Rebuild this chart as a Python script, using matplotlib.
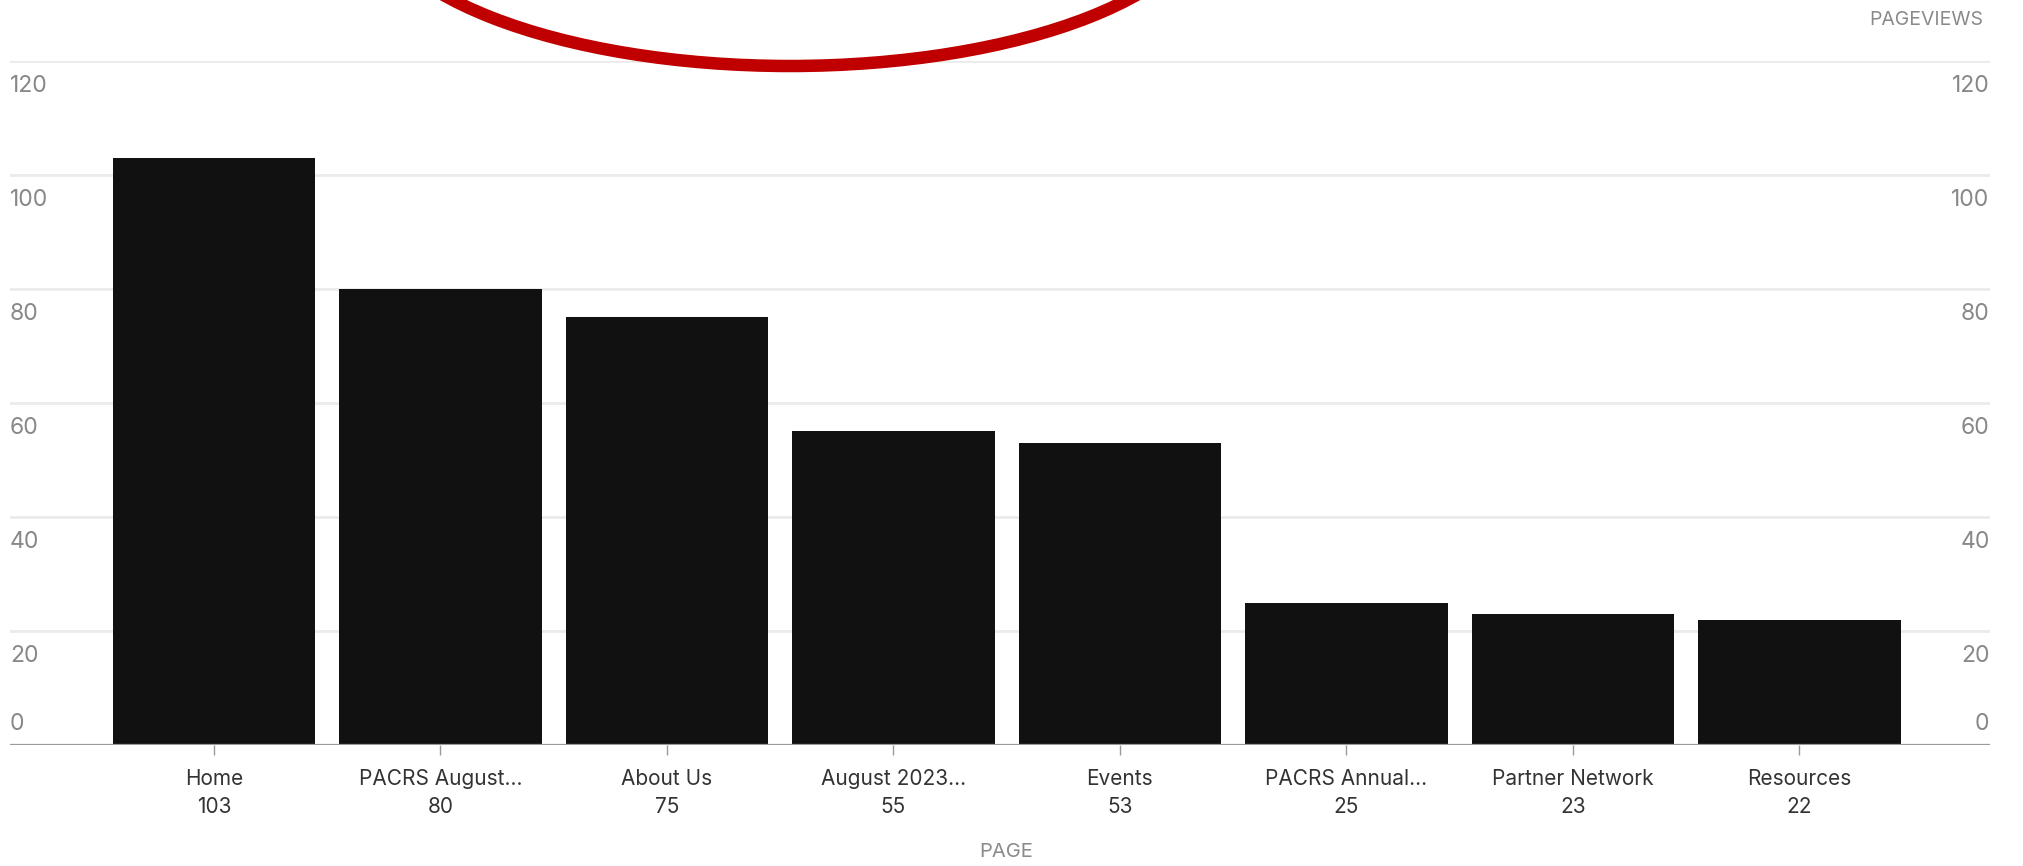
import matplotlib
matplotlib.use('Agg')
import matplotlib.pyplot as plt
from matplotlib.patches import Ellipse

# data
pages = ['Home', 'PACRS August...', 'About Us', 'August 2023...', 'Events',
         'PACRS Annual...', 'Partner Network', 'Resources']
pageviews = [103, 80, 75, 55, 53, 25, 23, 22]
y_ticks = [0, 20, 40, 60, 80, 100, 120]

plt.rcParams['font.family'] = ['Inter', 'DejaVu Sans']

fig = plt.figure(figsize=(20.24, 8.66), dpi=100)
ax = fig.add_axes([0.005, 0.1397, 0.978, 0.7899])

x = list(range(len(pages)))
ax.bar(x, pageviews, width=0.895, color='#111111', zorder=3)

ax.set_xlim(-0.90, len(pages) - 1 + 0.84)
ax.set_ylim(0, 120)

# grid lines
for t in y_ticks[1:]:
    ax.axhline(t, color='#ebebeb', lw=2, zorder=1)
ax.axhline(0, color='#9a9a9a', lw=1.6, zorder=4)

for s in ax.spines.values():
    s.set_visible(False)

# y labels on both sides, sitting just under each grid line
ax.set_yticks([])
for t in y_ticks:
    if t == 0:
        off, va = 7, 'bottom'
    else:
        off, va = -10, 'top'
    for xpos, ha in [(0, 'left'), (1, 'right')]:
        ax.annotate(str(t), xy=(xpos, t), xycoords=('axes fraction', 'data'),
                    xytext=(0, off), textcoords='offset points',
                    ha=ha, va=va, fontsize=16.5, color='#888888')

# category ticks + labels with values
ax.set_xticks(x)
ax.set_xticklabels([f'{p}\n{v}' for p, v in zip(pages, pageviews)],
                   fontsize=15, color='#333333', linespacing=1.55)
ax.tick_params(axis='x', length=7, width=1, color='#9a9a9a', pad=10)

fig.text(0.497, 1 - 852 / 866, 'PAGE', ha='center', va='center',
         fontsize=14.5, color='#8a8a8a')
fig.text(0.980, 1 - 20 / 866, 'PAGEVIEWS', ha='right', va='center',
         fontsize=14, color='#8a8a8a')

# red hand drawn circle at the top
ell = Ellipse((790 / 2024, 1 + 100 / 866), 845 / 2024, 332 / 866,
              transform=fig.transFigure, fill=False, edgecolor='#c00000',
              lw=9, clip_on=False, zorder=10)
fig.patches.append(ell)

fig.savefig('out.png', dpi=100)
